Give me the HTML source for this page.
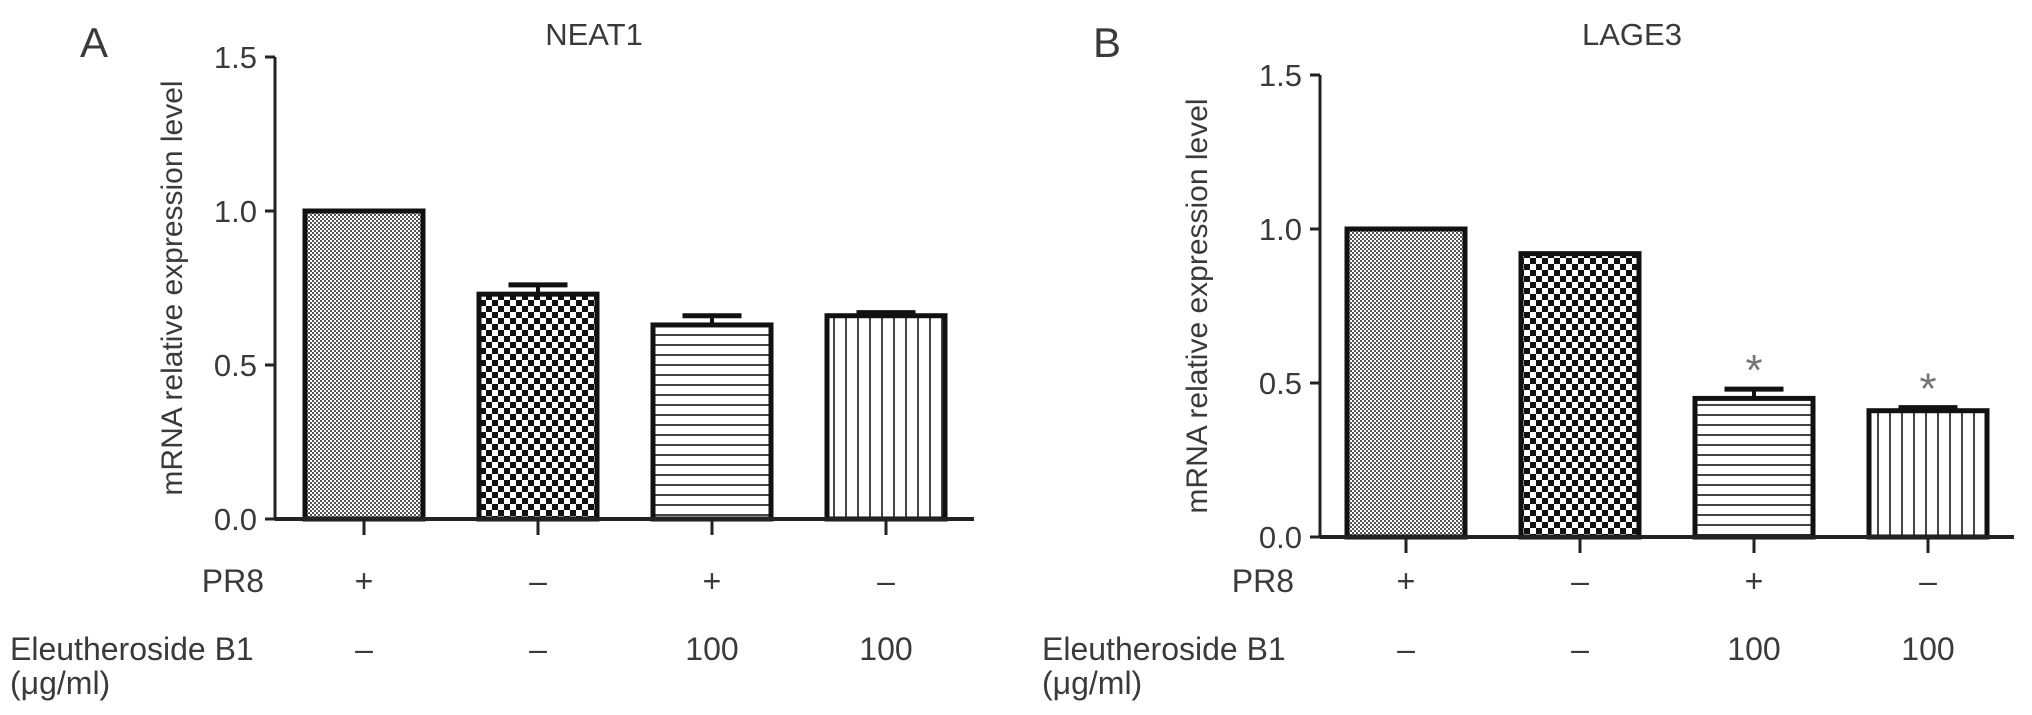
<!DOCTYPE html>
<html><head><meta charset="utf-8"><style>
html,body{margin:0;padding:0;background:#fff}
svg{display:block}
text{font-family:"Liberation Sans",sans-serif;fill:#3a3a3a}
</style></head><body>
<svg id="fig" width="2032" height="715" viewBox="0 0 2032 715" xmlns="http://www.w3.org/2000/svg">
<defs>
<pattern id="pFine" width="4" height="4" patternUnits="userSpaceOnUse"><rect width="4" height="4" fill="#fff"/><rect width="2" height="2" fill="#555"/><rect x="2" y="2" width="2" height="2" fill="#555"/></pattern>
<pattern id="pCheck" width="12" height="12" patternUnits="userSpaceOnUse"><rect width="12" height="12" fill="#fff"/><rect width="6" height="6" fill="#111"/><rect x="6" y="6" width="6" height="6" fill="#111"/></pattern>
<pattern id="pHoriz" width="10" height="10" patternUnits="userSpaceOnUse"><rect width="10" height="10" fill="#fff"/><rect y="4" width="10" height="2" fill="#444"/></pattern>
<pattern id="pVert" width="12" height="12" patternUnits="userSpaceOnUse"><rect width="12" height="12" fill="#fff"/><rect x="5" width="2" height="12" fill="#444"/></pattern>
</defs>
</svg>
<script>
const patterns = ['pFine','pCheck','pHoriz','pVert'];
const pr8Labels = ['+','\u2013','+','\u2013'];
const eleuLabels = ['\u2013','\u2013','100','100'];
const yTicks = [0, 0.5, 1.0, 1.5];
const yTickLabels = ['0.0','0.5','1.0','1.5'];
const neat1Values = [1.0, 0.73, 0.63, 0.66];
const neat1Errors = [0, 0.03, 0.03, 0.01];
const neat1Stars = [false, false, false, false];
const lage3Values = [1.0, 0.92, 0.45, 0.41];
const lage3Errors = [0, 0, 0.03, 0.01];
const lage3Stars = [false, false, true, true];

const svg = document.getElementById('fig');
const NS = 'http://www.w3.org/2000/svg';
function el(tag, attrs, parent){const e=document.createElementNS(NS,tag);for(const k in attrs)e.setAttribute(k,attrs[k]);(parent||svg).appendChild(e);return e;}

function panel(cfg){
  const g = el('g',{});
  
  
  const y = v => cfg.y0 - v*cfg.unit;
  const xc = i => cfg.xFirst + i*cfg.step;
  const L = el('text',{x:cfg.letterX,y:57,'font-size':42,fill:'#111'},g); L.textContent=cfg.letter;
  
  
  const T = el('text',{x:cfg.titleX,y:45,'font-size':31,'text-anchor':'middle'},g); T.textContent=cfg.title;
  
  
  const yl = el('text',{x:0,y:0,'font-size':30,'text-anchor':'middle',transform:`translate(${cfg.ylabX},${(y(0)+y(1.5))/2}) rotate(-90)`},g);
  yl.textContent='mRNA relative expression level';
  
  
  cfg.values.forEach((v,i)=>{
    const x0 = xc(i)-cfg.bw/2;
    const b = el('rect',{x:x0,y:y(v),width:cfg.bw,height:y(0)-y(v),fill:`url(#${patterns[i]})`,stroke:'#111','stroke-width':5},g);
    
    
    if(cfg.errors[i]>0){
      const e1 = el('line',{x1:xc(i),x2:xc(i),y1:y(v),y2:y(v+cfg.errors[i]),stroke:'#111','stroke-width':4},g);
      
      
      const e2 = el('line',{x1:xc(i)-cfg.bw*0.25,x2:xc(i)+cfg.bw*0.25,y1:y(v+cfg.errors[i]),y2:y(v+cfg.errors[i]),stroke:'#111','stroke-width':5},g);
      
      
    }
    if(cfg.stars[i]){
      const s = el('text',{x:xc(i),y:y(v+cfg.errors[i])-4,'font-size':44,'text-anchor':'middle',style:'fill:#777'},g); s.textContent='*';
      
      
    }
    const tk = el('line',{x1:xc(i),x2:xc(i),y1:y(0),y2:y(0)+16,stroke:'#222','stroke-width':3},g);
    
    
    const p = el('text',{x:xc(i),y:cfg.pr8Y,'font-size':32,'text-anchor':'middle'},g); p.textContent=pr8Labels[i];
    
    
    const q = el('text',{x:xc(i),y:660,'font-size':32,'text-anchor':'middle'},g); q.textContent=eleuLabels[i];
    
    
  });
  const ya = el('line',{x1:cfg.axisX,x2:cfg.axisX,y1:y(1.5),y2:y(0),stroke:'#222','stroke-width':3},g);
  
  
  const xa = el('line',{x1:cfg.axisX,x2:cfg.axisEnd,y1:y(0),y2:y(0),stroke:'#222','stroke-width':4},g);
  
  
  yTicks.forEach((t,i)=>{
    const l = el('line',{x1:cfg.axisX-10,x2:cfg.axisX,y1:y(t),y2:y(t),stroke:'#222','stroke-width':3},g);
    
    
    const tx = el('text',{x:cfg.axisX-18,y:y(t)+11,'font-size':31,'text-anchor':'end'},g); tx.textContent=yTickLabels[i];
    
    
  });
  const pl = el('text',{x:cfg.rowLabelX,y:cfg.pr8Y,'font-size':32,'text-anchor':'end'},g); pl.textContent='PR8';
  
  
  const el1 = el('text',{x:cfg.eleuX,y:660,'font-size':32},g); el1.textContent='Eleutheroside B1';
  
  
  const el2 = el('text',{x:cfg.eleuX,y:694,'font-size':32},g); el2.textContent='(\u03bcg/ml)';
  
  
}

panel({key:'neat1',letter:'A',letterX:80,title:'NEAT1',titleX:594,ylabX:182,axisX:275,axisEnd:974,y0:519,unit:308,
  xFirst:364,step:174,bw:118,values:neat1Values,errors:neat1Errors,stars:neat1Stars,pr8Y:592,rowLabelX:264,eleuX:10});
panel({key:'lage3',letter:'B',letterX:1093,title:'LAGE3',titleX:1632,ylabX:1207,axisX:1320,axisEnd:2014,y0:537,unit:308,
  xFirst:1406,step:174,bw:118,values:lage3Values,errors:lage3Errors,stars:lage3Stars,pr8Y:592,rowLabelX:1294,eleuX:1042});
</script>
</body></html>
